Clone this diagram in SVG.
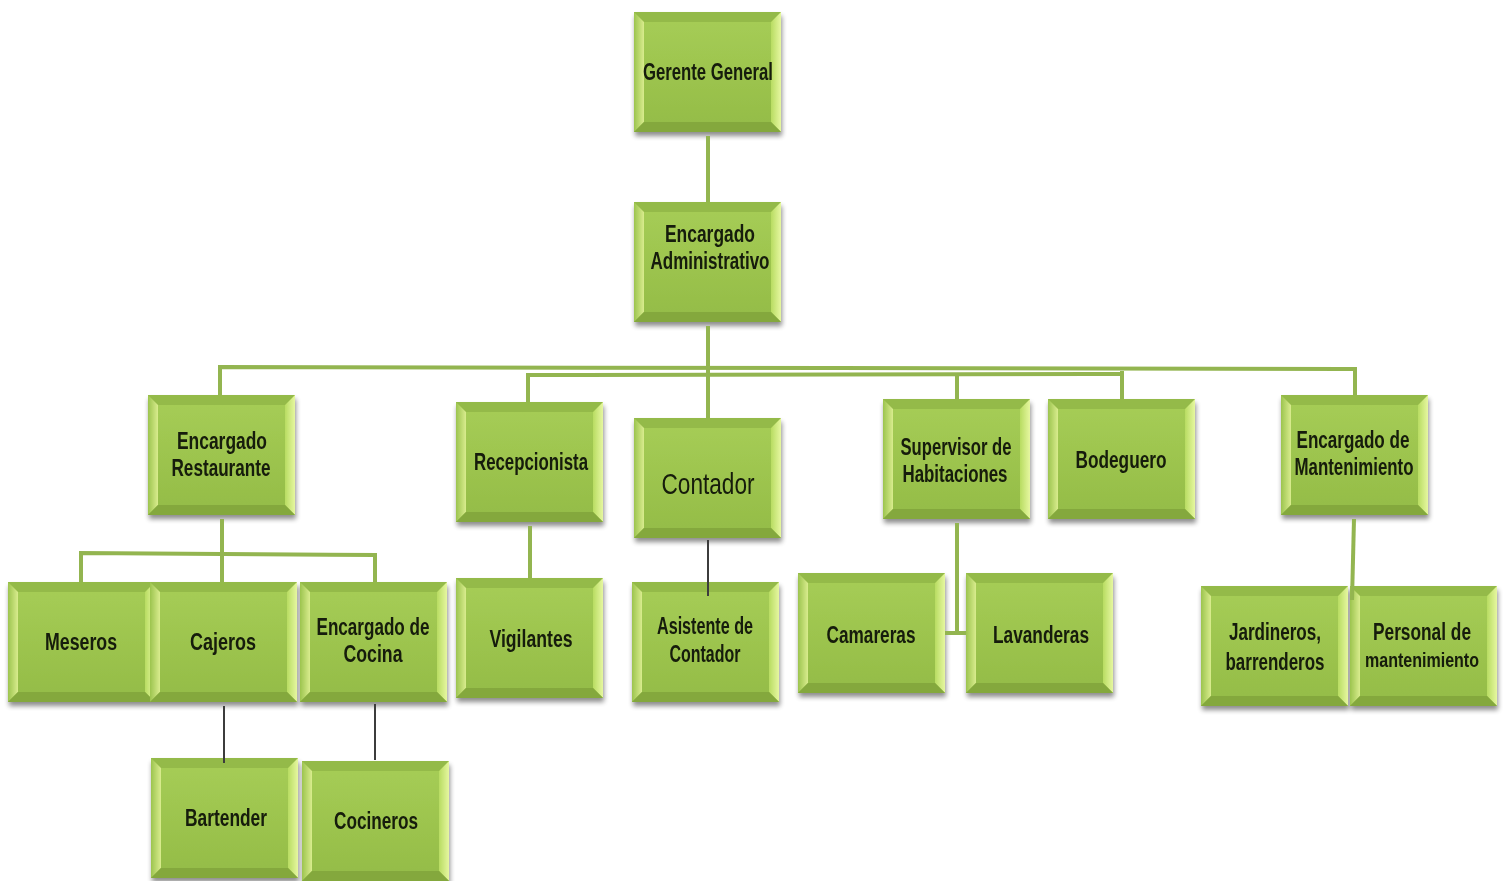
<svg xmlns="http://www.w3.org/2000/svg" xmlns:xlink="http://www.w3.org/1999/xlink" width="1507" height="881" viewBox="0 0 1507 881">
<style>
.t{font-family:"Liberation Sans","DejaVu Sans",sans-serif;font-size:23px;font-weight:bold;fill:#141a08;text-anchor:middle;}
.big{font-size:30px;font-weight:normal;}
.sm{font-size:20px;}
.g{stroke:#93b550;stroke-width:4;fill:none;}
.d{stroke:#3c3c3c;stroke-width:2;fill:none;}
</style>
<defs>
<filter id="sh" x="-5%" y="-5%" width="115%" height="120%">
<feGaussianBlur in="SourceAlpha" stdDeviation="2.5"/>
<feOffset dx="1" dy="4" result="b"/>
<feComponentTransfer><feFuncA type="linear" slope="0.45"/></feComponentTransfer>
<feMerge><feMergeNode/><feMergeNode in="SourceGraphic"/></feMerge>
</filter>
<linearGradient id="face" x1="0" y1="0" x2="0" y2="1">
<stop offset="0" stop-color="#a5cc55"/>
<stop offset="1" stop-color="#95bd48"/>
</linearGradient>
<linearGradient id="lft" x1="0" y1="0" x2="1" y2="0">
<stop offset="0" stop-color="#9cc44e"/>
<stop offset="1" stop-color="#d9ec8e"/>
</linearGradient>
<linearGradient id="rgt" x1="0" y1="0" x2="1" y2="0">
<stop offset="0" stop-color="#b8dc62"/>
<stop offset="1" stop-color="#e6f7a0"/>
</linearGradient>
<g id="box">
<rect x="0" y="0" width="147" height="120" fill="#92b944"/>
<polygon points="0,0 147,0 137,10 10,10" fill="#94ba48"/>
<polygon points="0,0 10,10 10,110 0,120" fill="url(#lft)"/>
<polygon points="147,0 147,120 137,110 137,10" fill="url(#rgt)"/>
<polygon points="0,120 10,110 137,110 147,120" fill="#84a83e"/>
<rect x="10" y="10" width="127" height="100" fill="url(#face)"/>
</g>
</defs>
<rect width="1507" height="881" fill="#ffffff"/>

<g id="nodes" filter="url(#sh)">
<g id="gerente-general"><use xlink:href="#box" x="634" y="12"/><text class="t" x="708" y="80" textLength="130" lengthAdjust="spacingAndGlyphs">Gerente General</text></g>
<g id="encargado-administrativo"><use xlink:href="#box" x="634" y="202"/><text class="t" x="710" y="242" textLength="90" lengthAdjust="spacingAndGlyphs">Encargado</text><text class="t" x="710" y="269" textLength="119" lengthAdjust="spacingAndGlyphs">Administrativo</text></g>
<g id="encargado-restaurante"><use xlink:href="#box" x="148" y="395"/><text class="t" x="222" y="449" textLength="90" lengthAdjust="spacingAndGlyphs">Encargado</text><text class="t" x="221" y="476" textLength="99" lengthAdjust="spacingAndGlyphs">Restaurante</text></g>
<g id="recepcionista"><use xlink:href="#box" x="456" y="402"/><text class="t" x="531" y="470" textLength="114" lengthAdjust="spacingAndGlyphs">Recepcionista</text></g>
<g id="contador"><use xlink:href="#box" x="634" y="418"/><text class="t big" x="708" y="494" textLength="93" lengthAdjust="spacingAndGlyphs">Contador</text></g>
<g id="supervisor-habitaciones"><use xlink:href="#box" x="883" y="399"/><text class="t" x="956" y="455" textLength="111" lengthAdjust="spacingAndGlyphs">Supervisor de</text><text class="t" x="955" y="482" textLength="105" lengthAdjust="spacingAndGlyphs">Habitaciones</text></g>
<g id="bodeguero"><use xlink:href="#box" x="1048" y="399"/><text class="t" x="1121" y="468" textLength="91" lengthAdjust="spacingAndGlyphs">Bodeguero</text></g>
<g id="encargado-mantenimiento"><use xlink:href="#box" x="1281" y="395"/><text class="t" x="1353" y="448" textLength="113" lengthAdjust="spacingAndGlyphs">Encargado de</text><text class="t" x="1354" y="475" textLength="119" lengthAdjust="spacingAndGlyphs">Mantenimiento</text></g>
<g id="meseros"><use xlink:href="#box" x="8" y="582"/><text class="t" x="81" y="650" textLength="72" lengthAdjust="spacingAndGlyphs">Meseros</text></g>
<g id="cajeros"><use xlink:href="#box" x="150" y="582"/><text class="t" x="223" y="650" textLength="66" lengthAdjust="spacingAndGlyphs">Cajeros</text></g>
<g id="encargado-cocina"><use xlink:href="#box" x="300" y="582"/><text class="t" x="373" y="635" textLength="113" lengthAdjust="spacingAndGlyphs">Encargado de</text><text class="t" x="373" y="662" textLength="59" lengthAdjust="spacingAndGlyphs">Cocina</text></g>
<g id="vigilantes"><use xlink:href="#box" x="456" y="578"/><text class="t" x="531" y="647" textLength="83" lengthAdjust="spacingAndGlyphs">Vigilantes</text></g>
<g id="asistente-contador"><use xlink:href="#box" x="632" y="582"/><text class="t" x="705" y="634" textLength="96" lengthAdjust="spacingAndGlyphs">Asistente de</text><text class="t" x="705" y="662" textLength="71" lengthAdjust="spacingAndGlyphs">Contador</text></g>
<g id="camareras"><use xlink:href="#box" x="798" y="573"/><text class="t" x="871" y="643" textLength="89" lengthAdjust="spacingAndGlyphs">Camareras</text></g>
<g id="lavanderas"><use xlink:href="#box" x="966" y="573"/><text class="t" x="1041" y="643" textLength="96" lengthAdjust="spacingAndGlyphs">Lavanderas</text></g>
<g id="jardineros"><use xlink:href="#box" x="1201" y="586"/><text class="t" x="1275" y="640" textLength="92" lengthAdjust="spacingAndGlyphs">Jardineros,</text><text class="t" x="1275" y="670" textLength="99" lengthAdjust="spacingAndGlyphs">barrenderos</text></g>
<g id="personal-mantenimiento"><use xlink:href="#box" x="1350" y="586"/><text class="t" x="1422" y="640" textLength="98" lengthAdjust="spacingAndGlyphs">Personal de</text><text class="t sm" x="1422" y="667" textLength="114" lengthAdjust="spacingAndGlyphs">mantenimiento</text></g>
<g id="bartender"><use xlink:href="#box" x="151" y="758"/><text class="t" x="226" y="826" textLength="82" lengthAdjust="spacingAndGlyphs">Bartender</text></g>
<g id="cocineros"><use xlink:href="#box" x="302" y="761"/><text class="t" x="376" y="829" textLength="84" lengthAdjust="spacingAndGlyphs">Cocineros</text></g>
</g>

<g id="connectors">
<line class="g" x1="708" y1="136" x2="708" y2="202"/>
<line class="g" x1="708" y1="326" x2="708" y2="418"/>
<polyline class="g" points="220,395 220,367 1355,369 1355,395"/>
<polyline class="g" points="528,402 528,375 1122,374"/>
<line class="g" x1="957" y1="374" x2="957" y2="399"/>
<line class="g" x1="1122" y1="371" x2="1122" y2="399"/>
<line class="g" x1="222" y1="519" x2="222" y2="582"/>
<polyline class="g" points="81,582 81,553 375,555 375,582"/>
<line class="g" x1="530" y1="526" x2="530" y2="578"/>
<polyline class="g" points="957,523 957,633 966,633"/>
<line class="g" x1="945" y1="633" x2="957" y2="633"/>
<line class="g" x1="1354" y1="519" x2="1352" y2="600"/>
<line class="d" x1="708" y1="540" x2="708" y2="596"/>
<line class="d" x1="224" y1="706" x2="224" y2="763"/>
<line class="d" x1="375" y1="704" x2="375" y2="760"/>
</g>
</svg>
